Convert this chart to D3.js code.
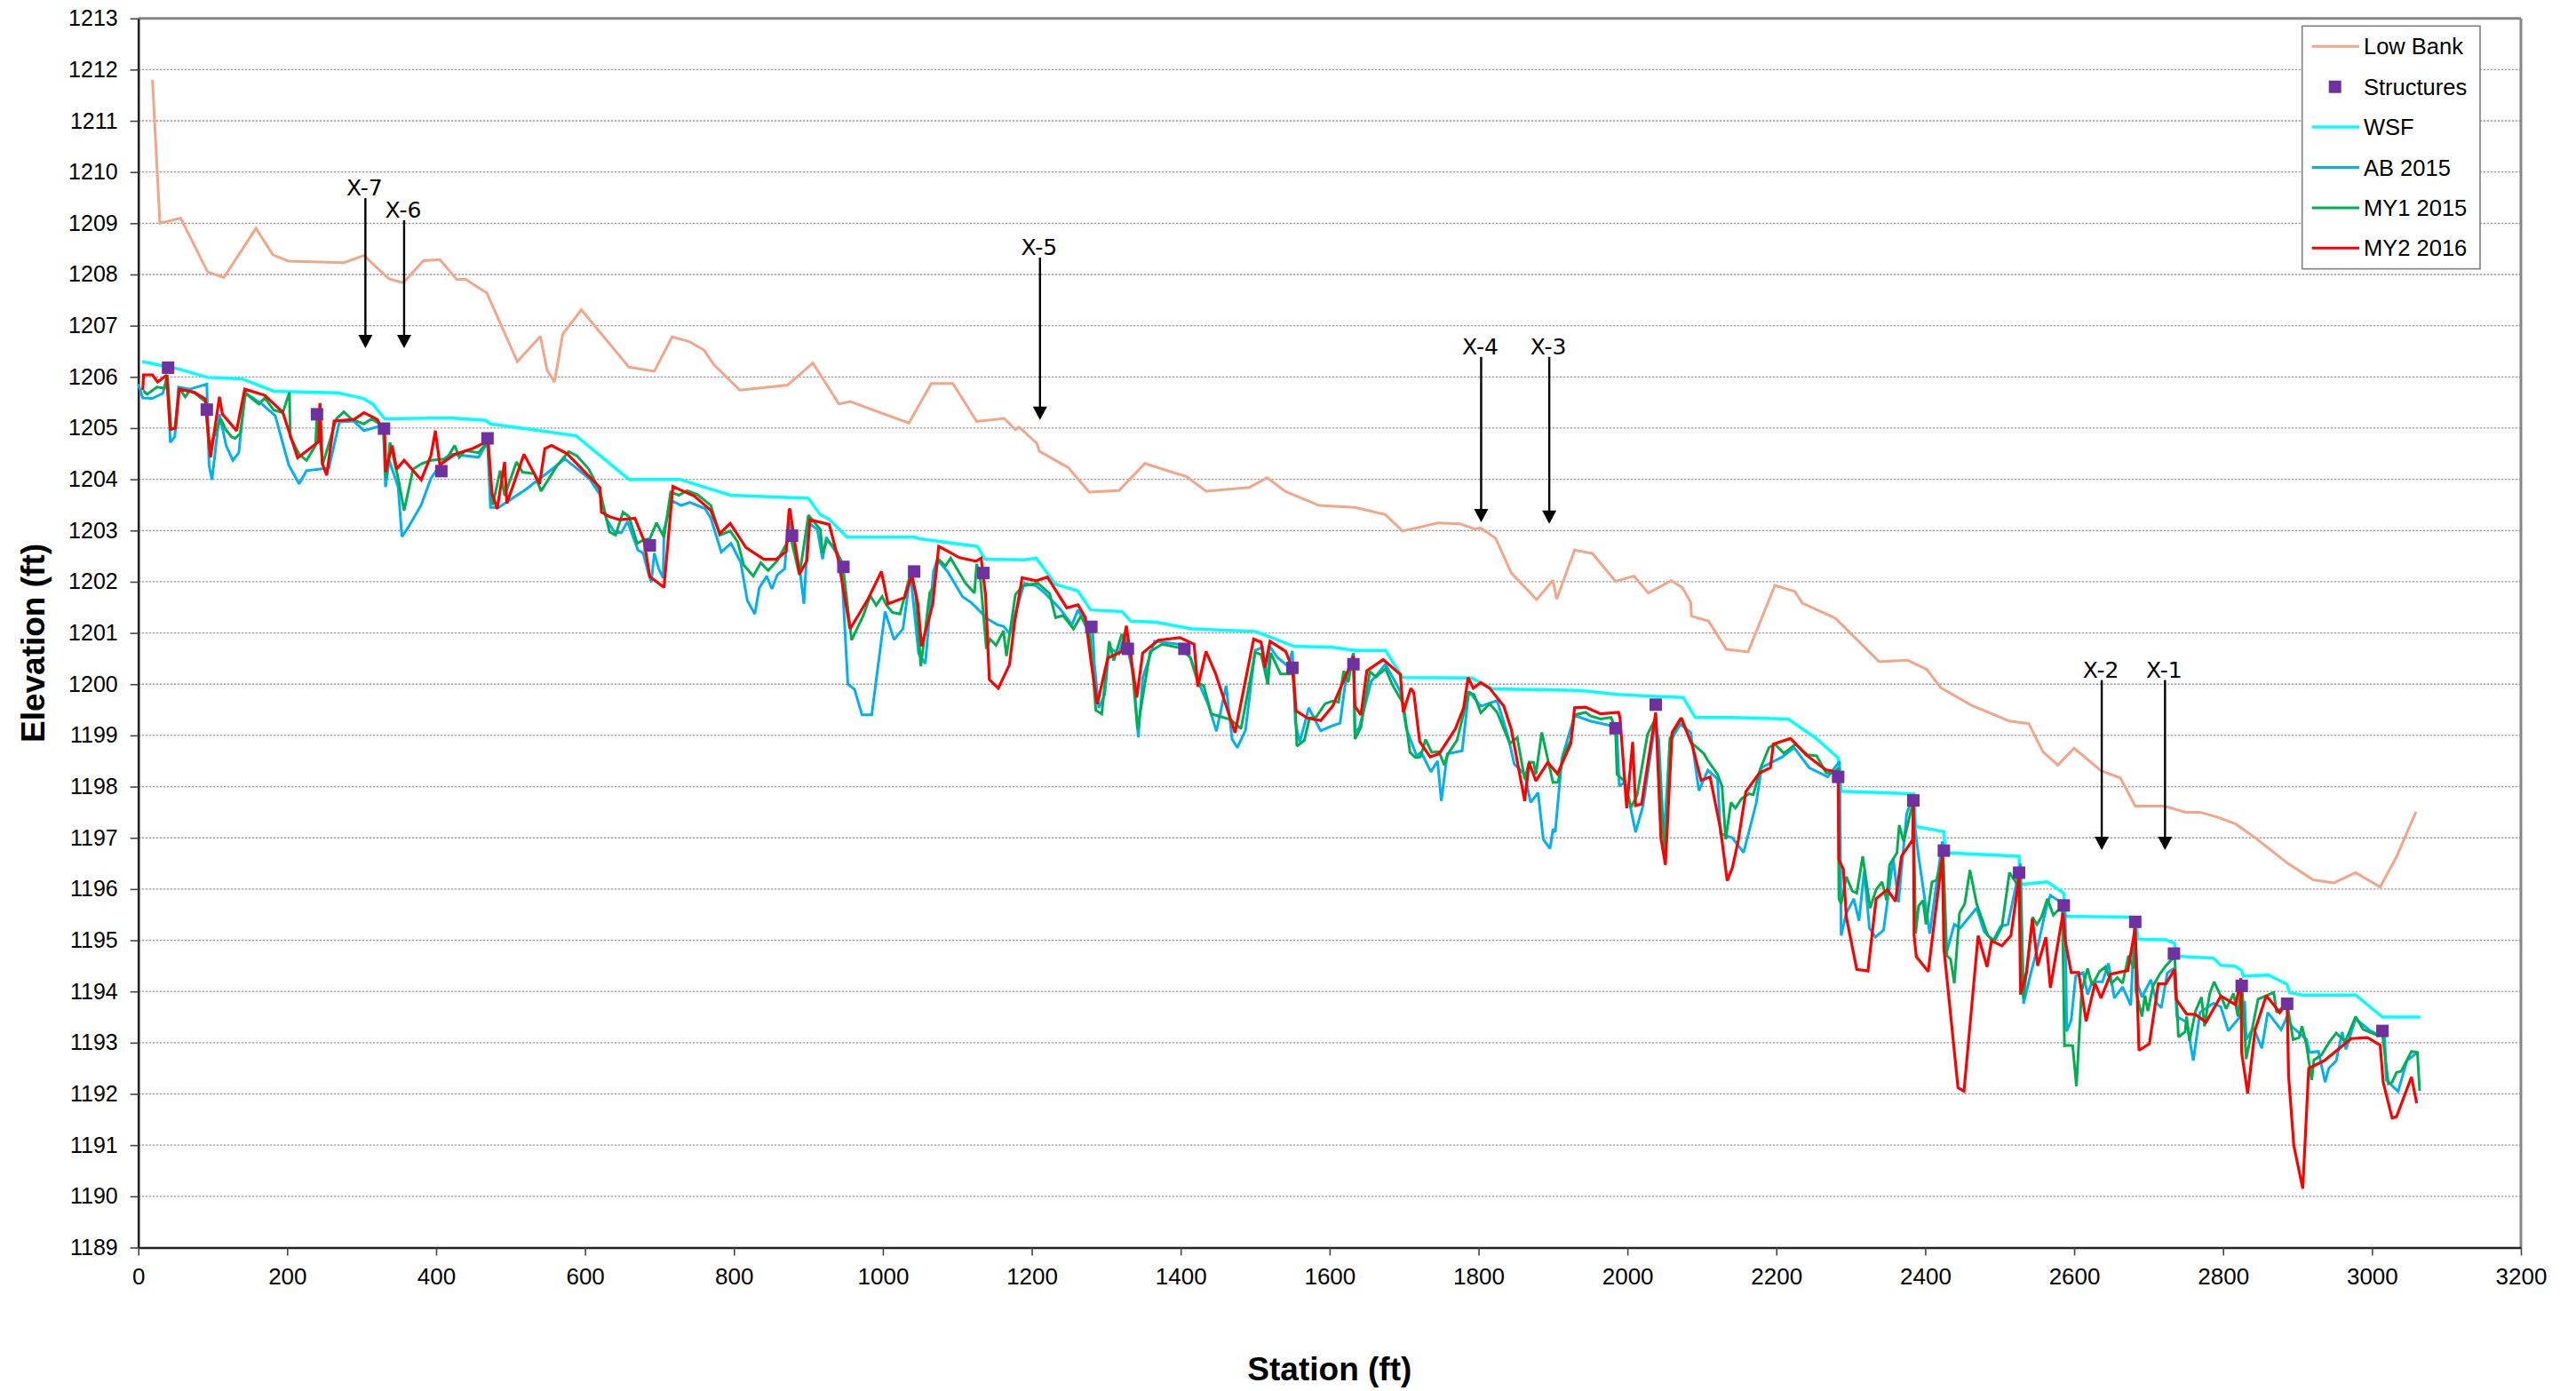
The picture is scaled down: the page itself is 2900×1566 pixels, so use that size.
<!DOCTYPE html>
<html><head><meta charset="utf-8">
<script src="https://cdn.jsdelivr.net/npm/d3@7"></script>
<style>body{margin:0;background:#fff}text{font-family:"Liberation Sans",Arial,sans-serif}</style>
</head><body>
<svg id="chart" width="2900" height="1566" xmlns="http://www.w3.org/2000/svg"></svg>
<script>
// ---------------- DATA ----------------
const seriesNames = ["Low Bank","Structures","WSF","AB 2015","MY1 2015","MY2 2016"];
const xTicks = [0,200,400,600,800,1000,1200,1400,1600,1800,2000,2200,2400,2600,2800,3000,3200];
const yTicks = [1189,1190,1191,1192,1193,1194,1195,1196,1197,1198,1199,1200,1201,1202,1203,1204,1205,1206,1207,1208,1209,1210,1211,1212,1213];

const lowBank = [[19,1211.8],[29,1209.0],[57,1209.1],[93,1208.05],[115,1207.94],[158,1208.9],[181,1208.38],[202,1208.26],[276,1208.23],[303,1208.37],[337,1207.91],[356,1207.84],[383,1208.27],[405,1208.29],[428,1207.9],[439,1207.91],[468,1207.64],[509,1206.3],[540,1206.79],[549,1206.13],[559,1205.9],[570,1206.83],[595,1207.31],[659,1206.19],[693,1206.11],[717,1206.78],[740,1206.69],[760,1206.52],[773,1206.24],[808,1205.74],[872,1205.84],[906,1206.27],[941,1205.47],[956,1205.52],[1035,1205.1],[1065,1205.87],[1094,1205.87],[1126,1205.13],[1163,1205.19],[1178,1204.97],[1183,1205.02],[1207,1204.7],[1210,1204.55],[1249,1204.23],[1277,1203.75],[1317,1203.78],[1352,1204.31],[1393,1204.12],[1407,1204.06],[1434,1203.77],[1492,1203.84],[1516,1204.03],[1541,1203.76],[1586,1203.49],[1634,1203.45],[1675,1203.31],[1698,1202.99],[1746,1203.15],[1775,1203.13],[1795,1203.03],[1803,1203.05],[1823,1202.85],[1844,1202.17],[1878,1201.65],[1900,1202.03],[1905,1201.66],[1929,1202.62],[1953,1202.55],[1984,1202.01],[2009,1202.11],[2028,1201.78],[2059,1202.02],[2074,1201.88],[2085,1201.6],[2086,1201.33],[2109,1201.23],[2133,1200.68],[2162,1200.63],[2198,1201.93],[2225,1201.81],[2235,1201.58],[2279,1201.29],[2338,1200.44],[2376,1200.47],[2402,1200.29],[2421,1199.93],[2463,1199.58],[2513,1199.28],[2539,1199.23],[2558,1198.68],[2578,1198.42],[2600,1198.75],[2636,1198.31],[2662,1198.17],[2682,1197.62],[2721,1197.62],[2750,1197.5],[2769,1197.5],[2793,1197.4],[2817,1197.27],[2845,1196.98],[2887,1196.5],[2921,1196.18],[2949,1196.12],[2978,1196.32],[3011,1196.04],[3033,1196.63],[3059,1197.51]];

const structures = [[40,1206.18],[92,1205.36],[240,1205.27],[330,1204.99],[407,1204.16],[469,1204.8],[687,1202.71],[878,1202.9],[947,1202.29],[1042,1202.2],[1135,1202.17],[1280,1201.12],[1329,1200.69],[1405,1200.69],[1550,1200.32],[1632,1200.39],[1984,1199.14],[2038,1199.6],[2283,1198.19],[2384,1197.73],[2425,1196.75],[2526,1196.32],[2586,1195.68],[2682,1195.36],[2734,1194.74],[2825,1194.11],[2886,1193.76],[3014,1193.23]];

const wsf = [[5,1206.3],[55,1206.15],[93,1205.99],[140,1205.96],[182,1205.72],[268,1205.69],[302,1205.58],[315,1205.47],[331,1205.18],[417,1205.2],[467,1205.15],[473,1205.08],[530,1204.97],[588,1204.85],[659,1204.0],[727,1204.0],[795,1203.69],[900,1203.63],[916,1203.31],[928,1203.22],[952,1202.87],[1043,1202.87],[1049,1202.84],[1105,1202.73],[1127,1202.69],[1137,1202.44],[1190,1202.43],[1206,1202.46],[1232,1201.95],[1262,1201.82],[1279,1201.45],[1321,1201.42],[1333,1201.23],[1367,1201.21],[1415,1201.08],[1500,1201.03],[1520,1200.92],[1552,1200.74],[1604,1200.72],[1634,1200.66],[1675,1200.66],[1698,1200.13],[1791,1200.12],[1819,1199.91],[1934,1199.88],[1986,1199.8],[2037,1199.76],[2075,1199.74],[2091,1199.35],[2141,1199.35],[2216,1199.32],[2252,1198.96],[2283,1198.56],[2287,1197.91],[2385,1197.86],[2387,1197.22],[2425,1197.12],[2427,1196.71],[2526,1196.64],[2527,1196.09],[2564,1196.14],[2586,1195.92],[2588,1195.47],[2682,1195.45],[2686,1195.02],[2723,1195.01],[2735,1194.94],[2737,1194.69],[2787,1194.65],[2797,1194.51],[2815,1194.5],[2825,1194.41],[2827,1194.3],[2861,1194.32],[2886,1194.14],[2889,1193.98],[2906,1193.93],[2978,1193.93],[3014,1193.5],[3065,1193.5]];

const ab2015 = [[0,1205.86],[6,1205.59],[19,1205.58],[33,1205.68],[39,1206.0],[43,1204.72],[49,1204.83],[54,1205.8],[69,1205.76],[92,1205.86],[95,1204.28],[99,1203.99],[109,1205.27],[118,1204.66],[127,1204.37],[135,1204.52],[143,1205.7],[166,1205.47],[184,1205.24],[202,1204.28],[216,1203.91],[226,1204.17],[256,1204.22],[270,1205.12],[289,1205.14],[303,1204.95],[329,1205.06],[332,1203.85],[337,1204.37],[349,1203.85],[354,1202.88],[362,1203.05],[380,1203.5],[393,1204.02],[413,1204.43],[421,1204.49],[457,1204.43],[469,1204.72],[473,1203.45],[484,1203.45],[520,1203.8],[548,1204.11],[573,1204.4],[590,1204.2],[606,1204.01],[620,1203.7],[629,1203.21],[640,1202.96],[649,1202.96],[657,1203.18],[671,1202.62],[678,1202.56],[685,1202.17],[689,1201.99],[693,1202.56],[699,1202.25],[705,1202.07],[706,1203.02],[717,1203.58],[729,1203.49],[741,1203.55],[761,1203.43],[769,1203.24],[783,1202.58],[796,1202.75],[809,1202.38],[818,1201.63],[828,1201.37],[834,1201.88],[844,1202.11],[851,1201.86],[858,1202.13],[868,1202.25],[872,1202.93],[875,1203.18],[888,1202.28],[894,1201.57],[900,1203.15],[912,1203.02],[919,1202.44],[924,1202.87],[944,1202.41],[953,1200.0],[962,1199.9],[972,1199.4],[985,1199.4],[1003,1201.42],[1015,1200.87],[1027,1201.08],[1037,1202.16],[1048,1200.6],[1057,1200.4],[1068,1202.2],[1073,1202.43],[1087,1202.2],[1107,1201.71],[1119,1201.59],[1141,1201.27],[1154,1201.16],[1162,1201.13],[1171,1200.98],[1178,1201.39],[1190,1201.97],[1206,1201.92],[1218,1201.77],[1238,1201.47],[1254,1201.16],[1262,1201.45],[1274,1201.16],[1282,1200.98],[1284,1200.4],[1290,1199.54],[1298,1199.8],[1304,1200.72],[1317,1200.59],[1325,1200.98],[1337,1200.12],[1343,1198.96],[1349,1200.12],[1365,1200.84],[1397,1200.78],[1413,1200.52],[1425,1200.0],[1437,1199.6],[1448,1199.08],[1461,1199.97],[1469,1198.93],[1476,1198.76],[1487,1199.1],[1500,1200.66],[1510,1200.72],[1517,1200.0],[1519,1200.75],[1530,1200.52],[1544,1200.35],[1550,1200.65],[1554,1199.25],[1560,1198.87],[1572,1199.54],[1588,1199.09],[1604,1199.19],[1614,1199.24],[1622,1200.12],[1632,1200.61],[1634,1199.06],[1640,1199.16],[1656,1200.06],[1675,1200.39],[1695,1199.86],[1703,1199.13],[1717,1198.6],[1723,1198.67],[1736,1198.29],[1745,1198.5],[1750,1197.72],[1758,1198.64],[1778,1198.7],[1787,1199.86],[1803,1199.57],[1825,1199.68],[1840,1198.96],[1848,1198.44],[1862,1198.24],[1870,1197.69],[1880,1197.88],[1887,1196.97],[1896,1196.79],[1900,1197.17],[1903,1197.11],[1912,1198.55],[1929,1199.39],[1950,1199.28],[1978,1199.19],[1986,1199.02],[1989,1198.01],[1997,1198.09],[2011,1197.11],[2021,1197.63],[2037,1199.22],[2042,1198.93],[2049,1196.98],[2057,1198.87],[2071,1199.22],[2085,1199.06],[2096,1197.92],[2108,1198.32],[2121,1198.15],[2125,1197.08],[2141,1197.0],[2156,1196.71],[2173,1197.68],[2180,1198.37],[2208,1198.58],[2224,1198.76],[2244,1198.37],[2269,1198.19],[2280,1198.4],[2285,1198.49],[2287,1195.09],[2294,1195.53],[2304,1195.81],[2311,1195.38],[2318,1196.35],[2325,1195.24],[2333,1195.06],[2344,1195.2],[2357,1196.6],[2364,1195.74],[2375,1197.47],[2384,1197.83],[2386,1197.22],[2391,1196.64],[2406,1195.13],[2423,1196.93],[2428,1194.73],[2439,1195.31],[2447,1195.24],[2469,1195.63],[2479,1195.17],[2491,1194.99],[2501,1195.27],[2511,1195.31],[2528,1196.5],[2532,1193.76],[2542,1194.37],[2550,1194.81],[2562,1195.6],[2568,1195.88],[2582,1195.74],[2588,1195.49],[2590,1193.22],[2596,1193.44],[2602,1194.3],[2612,1194.37],[2618,1193.94],[2624,1194.19],[2638,1194.19],[2646,1194.55],[2654,1193.87],[2665,1194.09],[2676,1193.73],[2681,1195.3],[2686,1194.11],[2691,1193.89],[2703,1194.23],[2711,1193.77],[2717,1193.68],[2725,1194.36],[2734,1194.45],[2738,1193.51],[2751,1193.4],[2760,1192.65],[2769,1193.59],[2787,1193.77],[2797,1193.7],[2807,1193.23],[2823,1193.51],[2829,1193.81],[2831,1193.06],[2841,1193.29],[2852,1192.89],[2860,1193.59],[2878,1193.25],[2886,1193.51],[2892,1193.32],[2912,1193.06],[2916,1192.81],[2928,1192.83],[2937,1192.23],[2942,1192.5],[2952,1192.65],[2960,1193.21],[2965,1192.87],[2978,1193.47],[2996,1193.25],[3010,1193.14],[3017,1193.16],[3019,1192.27],[3035,1192.05],[3047,1192.65],[3061,1192.81]];

const my12015 = [[7,1205.73],[12,1205.66],[25,1205.8],[35,1205.78],[39,1206.04],[44,1204.97],[49,1205.0],[55,1205.78],[63,1205.61],[69,1205.73],[75,1205.69],[90,1205.52],[95,1204.6],[111,1205.18],[117,1204.98],[125,1204.83],[130,1204.8],[137,1204.9],[144,1205.68],[162,1205.47],[170,1205.59],[182,1205.35],[194,1205.3],[203,1205.7],[204,1204.83],[216,1204.49],[226,1204.37],[238,1204.66],[240,1205.24],[248,1204.31],[266,1205.18],[276,1205.32],[286,1205.18],[303,1205.08],[313,1205.18],[329,1205.04],[333,1204.02],[338,1204.72],[349,1204.02],[357,1203.39],[369,1204.2],[381,1204.31],[393,1204.37],[414,1204.4],[425,1204.66],[431,1204.43],[439,1204.56],[457,1204.52],[469,1204.73],[476,1203.5],[486,1204.17],[492,1203.68],[508,1204.34],[516,1204.14],[532,1204.11],[541,1203.77],[562,1204.26],[578,1204.54],[589,1204.46],[605,1204.2],[620,1203.77],[633,1202.97],[641,1202.91],[651,1203.36],[659,1203.27],[670,1202.75],[679,1202.82],[687,1202.84],[696,1203.15],[706,1202.87],[715,1203.75],[726,1203.69],[737,1203.78],[751,1203.7],[769,1203.49],[781,1202.91],[795,1202.99],[805,1202.78],[813,1202.33],[826,1202.11],[836,1202.37],[846,1202.22],[858,1202.41],[872,1202.78],[876,1202.87],[888,1202.13],[900,1203.3],[916,1203.02],[919,1202.56],[925,1202.81],[936,1202.65],[946,1202.34],[958,1200.86],[974,1201.35],[983,1201.73],[991,1201.54],[999,1201.71],[1005,1201.54],[1013,1201.4],[1023,1201.37],[1037,1202.16],[1044,1201.79],[1051,1200.35],[1063,1201.79],[1069,1201.91],[1074,1202.45],[1084,1202.31],[1091,1202.46],[1111,1201.97],[1123,1201.78],[1126,1202.35],[1131,1202.05],[1139,1200.69],[1144,1200.88],[1152,1200.76],[1162,1201.04],[1166,1200.55],[1178,1201.75],[1188,1201.92],[1208,1201.97],[1224,1201.77],[1232,1201.3],[1242,1201.34],[1256,1201.08],[1266,1201.33],[1278,1200.98],[1286,1199.49],[1294,1199.42],[1304,1200.84],[1310,1200.46],[1321,1200.98],[1326,1200.8],[1333,1200.61],[1342,1199.13],[1359,1200.64],[1375,1200.78],[1399,1200.71],[1413,1200.52],[1423,1200.03],[1431,1199.97],[1441,1199.42],[1467,1199.31],[1481,1199.13],[1500,1200.62],[1508,1200.58],[1517,1200.0],[1521,1200.61],[1534,1200.2],[1548,1200.2],[1552,1200.29],[1556,1198.79],[1566,1198.9],[1573,1199.34],[1582,1199.36],[1594,1199.62],[1604,1199.67],[1612,1199.65],[1619,1200.26],[1625,1200.04],[1632,1200.6],[1634,1198.93],[1642,1199.16],[1654,1200.25],[1662,1200.14],[1675,1200.3],[1685,1199.97],[1699,1199.62],[1708,1198.67],[1715,1198.57],[1722,1198.58],[1729,1198.92],[1737,1198.67],[1747,1198.68],[1754,1198.42],[1759,1198.64],[1771,1198.9],[1787,1199.84],[1794,1199.8],[1803,1199.44],[1815,1199.62],[1825,1199.45],[1842,1198.84],[1852,1198.96],[1862,1198.15],[1868,1198.48],[1874,1198.47],[1877,1198.24],[1885,1199.06],[1900,1198.08],[1907,1198.09],[1914,1198.64],[1924,1198.9],[1929,1199.4],[1944,1199.45],[1950,1199.38],[1964,1199.32],[1978,1199.35],[1984,1199.13],[1986,1198.24],[1995,1198.12],[2005,1197.6],[2013,1197.83],[2027,1199.02],[2038,1199.34],[2047,1197.34],[2051,1196.56],[2057,1198.94],[2073,1199.34],[2085,1198.87],[2103,1198.64],[2107,1198.53],[2121,1198.24],[2127,1198.01],[2132,1196.97],[2139,1197.69],[2145,1197.58],[2153,1197.76],[2163,1197.86],[2169,1197.84],[2178,1198.33],[2190,1198.76],[2198,1198.83],[2210,1198.65],[2226,1198.83],[2242,1198.62],[2254,1198.6],[2267,1198.27],[2278,1198.26],[2283,1198.37],[2284,1195.81],[2287,1195.71],[2294,1196.24],[2302,1195.96],[2308,1195.92],[2316,1196.64],[2326,1195.63],[2334,1195.99],[2342,1196.14],[2348,1195.78],[2352,1196.47],[2362,1196.71],[2365,1197.25],[2371,1196.93],[2381,1197.54],[2384,1197.68],[2387,1195.13],[2391,1195.67],[2397,1195.78],[2401,1195.31],[2409,1196.14],[2415,1196.17],[2424,1196.71],[2429,1194.7],[2434,1194.63],[2439,1194.16],[2446,1195.53],[2453,1195.71],[2460,1196.37],[2469,1195.71],[2484,1195.09],[2493,1194.99],[2503,1195.27],[2513,1196.32],[2525,1196.06],[2527,1196.24],[2532,1193.87],[2544,1195.45],[2550,1195.31],[2556,1195.45],[2564,1195.81],[2572,1195.49],[2584,1195.67],[2587,1192.94],[2592,1192.95],[2598,1192.94],[2603,1192.15],[2610,1194.01],[2618,1194.45],[2624,1194.12],[2634,1194.39],[2642,1194.48],[2650,1194.16],[2658,1194.27],[2665,1194.16],[2673,1194.7],[2680,1194.45],[2682,1195.2],[2683,1194.0],[2691,1193.51],[2695,1193.92],[2699,1193.62],[2706,1194.11],[2715,1194.34],[2723,1194.5],[2735,1194.69],[2740,1193.11],[2749,1193.21],[2751,1193.51],[2755,1193.04],[2763,1193.62],[2771,1193.89],[2775,1193.32],[2782,1193.96],[2788,1194.19],[2800,1193.81],[2804,1193.66],[2814,1193.96],[2820,1193.51],[2825,1194.19],[2831,1192.68],[2847,1193.85],[2868,1193.98],[2872,1193.59],[2886,1193.77],[2894,1193.06],[2902,1193.1],[2906,1193.32],[2912,1192.95],[2919,1192.27],[2922,1192.66],[2932,1192.76],[2943,1193.02],[2952,1193.19],[2964,1193.02],[2978,1193.51],[2988,1193.26],[3008,1193.14],[3014,1193.17],[3022,1192.2],[3027,1192.23],[3033,1192.42],[3039,1192.44],[3053,1192.83],[3061,1192.81],[3064,1192.06]];

const my22016 = [[6,1205.74],[7,1206.04],[19,1206.04],[26,1205.9],[38,1206.03],[43,1204.98],[50,1205.0],[55,1205.76],[75,1205.7],[90,1205.57],[97,1204.43],[109,1205.61],[113,1205.27],[132,1204.95],[143,1205.76],[170,1205.64],[194,1205.31],[214,1204.42],[242,1204.73],[244,1205.49],[247,1204.31],[253,1204.08],[263,1205.14],[290,1205.17],[303,1205.3],[321,1205.17],[331,1204.89],[332,1204.14],[341,1204.66],[347,1204.2],[357,1204.37],[380,1203.99],[393,1204.46],[399,1204.95],[405,1204.28],[425,1204.49],[449,1204.6],[466,1204.72],[470,1204.72],[475,1203.73],[482,1203.42],[492,1204.34],[495,1203.53],[518,1204.49],[539,1203.91],[546,1204.6],[555,1204.66],[576,1204.5],[620,1203.84],[622,1203.36],[633,1203.27],[647,1203.21],[667,1203.24],[679,1202.81],[687,1202.1],[706,1201.89],[718,1203.86],[747,1203.67],[769,1203.39],[781,1202.94],[795,1203.14],[816,1202.67],[840,1202.44],[857,1202.44],[870,1202.59],[874,1203.39],[875,1203.43],[888,1202.15],[898,1202.41],[902,1203.21],[928,1203.12],[940,1202.44],[956,1201.08],[980,1201.66],[998,1202.2],[1007,1201.57],[1029,1201.69],[1039,1202.13],[1047,1201.57],[1052,1200.74],[1067,1201.56],[1075,1202.69],[1103,1202.47],[1125,1202.4],[1132,1202.46],[1138,1201.73],[1143,1200.09],[1155,1199.92],[1170,1200.38],[1177,1201.21],[1187,1202.08],[1206,1202.02],[1221,1202.09],[1247,1201.49],[1262,1201.55],[1272,1201.3],[1280,1200.4],[1288,1199.61],[1302,1200.51],[1321,1200.64],[1327,1201.14],[1341,1199.74],[1349,1200.61],[1370,1200.86],[1399,1200.91],[1418,1200.78],[1423,1199.95],[1434,1200.64],[1447,1200.2],[1473,1199.05],[1498,1200.88],[1508,1200.82],[1513,1200.32],[1520,1200.84],[1541,1200.64],[1550,1200.32],[1555,1199.48],[1570,1199.34],[1588,1199.29],[1604,1199.57],[1628,1200.38],[1632,1200.55],[1634,1199.57],[1642,1199.4],[1650,1200.26],[1672,1200.48],[1695,1200.19],[1699,1199.45],[1709,1199.92],[1713,1199.84],[1721,1198.88],[1735,1198.58],[1747,1198.64],[1769,1199.13],[1780,1199.54],[1786,1200.13],[1793,1199.92],[1803,1200.03],[1815,1199.92],[1834,1199.57],[1844,1199.12],[1862,1197.72],[1868,1198.47],[1877,1198.11],[1893,1198.47],[1906,1198.25],[1924,1198.84],[1929,1199.54],[1944,1199.55],[1964,1199.42],[1988,1199.45],[1990,1199.35],[1999,1197.58],[2007,1198.87],[2011,1197.63],[2019,1197.66],[2038,1199.45],[2045,1196.99],[2051,1196.47],[2060,1199.06],[2072,1199.34],[2087,1198.81],[2099,1198.12],[2111,1198.19],[2125,1197.17],[2134,1196.16],[2141,1196.42],[2149,1196.96],[2159,1197.9],[2177,1198.26],[2192,1198.37],[2196,1198.83],[2219,1198.94],[2240,1198.62],[2266,1198.33],[2280,1198.29],[2283,1198.15],[2284,1196.57],[2290,1196.39],[2294,1195.45],[2308,1194.43],[2323,1194.4],[2334,1195.81],[2349,1195.99],[2360,1195.76],[2368,1196.64],[2383,1196.96],[2384,1197.72],[2385,1195.09],[2388,1194.68],[2404,1194.39],[2423,1196.64],[2425,1194.84],[2444,1192.12],[2452,1192.05],[2471,1195.09],[2483,1194.48],[2489,1194.99],[2503,1194.89],[2515,1195.09],[2526,1196.24],[2528,1193.94],[2536,1194.37],[2544,1195.42],[2551,1194.5],[2562,1195.06],[2568,1194.07],[2585,1195.53],[2588,1194.99],[2596,1194.37],[2606,1194.37],[2616,1193.42],[2628,1194.16],[2636,1193.87],[2649,1194.34],[2672,1194.41],[2682,1195.24],[2687,1192.85],[2701,1192.98],[2713,1194.15],[2723,1194.15],[2735,1194.43],[2737,1193.85],[2751,1193.56],[2763,1193.55],[2777,1193.4],[2797,1193.91],[2817,1193.74],[2824,1194.26],[2825,1192.8],[2833,1192.01],[2843,1193.25],[2858,1193.92],[2876,1193.59],[2886,1193.77],[2888,1192.35],[2895,1190.99],[2907,1190.15],[2915,1192.5],[2936,1192.65],[2972,1193.08],[2994,1193.1],[3011,1192.95],[3015,1192.23],[3027,1191.53],[3033,1191.56],[3053,1192.33],[3060,1191.82]];

const annLabels = ["X-7","X-6","X-5","X-4","X-3","X-2","X-1"];
const annStations = [305,357,1211,1803.5,1895,2637,2722];
const annTop = [1209.49,1209.06,1208.33,1206.39,1206.39,1200.08,1200.08];
const annTip = [1206.56,1206.56,1205.16,1203.16,1203.13,1196.76,1196.76];

// ---------------- CHART ----------------
const svg = d3.select("#chart");
const L = 155.7, R = 2838, T = 20.7, B = 1404.5;
const x = d3.scaleLinear().domain([0, 3200]).range([L, R]);
const y = d3.scaleLinear().domain([1189, 1213]).range([B, T]);

svg.append("rect").attr("width",2900).attr("height",1566).attr("fill","#fff");

// gridlines
svg.append("g").selectAll("line").data(yTicks.filter(d => d > 1189 && d < 1213)).join("line")
  .attr("x1", L).attr("x2", R).attr("y1", d => y(d)).attr("y2", d => y(d))
  .attr("stroke", "#9a9a9a").attr("stroke-width", 1.3).attr("stroke-dasharray", "2.5,1.5");

// borders top/right
svg.append("line").attr("x1",L).attr("x2",R).attr("y1",T).attr("y2",T).attr("stroke","#858585").attr("stroke-width",3);
svg.append("line").attr("x1",R).attr("x2",R).attr("y1",T).attr("y2",B).attr("stroke","#858585").attr("stroke-width",3);

// axes
const yAxis = svg.append("g").attr("transform", `translate(${L},0)`)
  .call(d3.axisLeft(y).tickValues(yTicks).tickSize(9).tickSizeOuter(0).tickPadding(14).tickFormat(d3.format("d")));
const xAxis = svg.append("g").attr("transform", `translate(0,${B})`)
  .call(d3.axisBottom(x).tickValues(xTicks).tickSize(9).tickSizeOuter(0).tickPadding(14).tickFormat(d3.format("d")));
[yAxis, xAxis].forEach(g => {
  g.select(".domain").attr("stroke", "#222").attr("stroke-width", 2.6);
  g.selectAll(".tick line").attr("stroke", "#444").attr("stroke-width", 1.6);
  g.selectAll(".tick text").attr("fill", "#000").style("font-family", '"Liberation Sans", Arial, sans-serif');
});
yAxis.selectAll(".tick text").style("font-size", "25px");
xAxis.selectAll(".tick text").style("font-size", "26px");

// series lines
const line = d3.line().x(d => x(d[0])).y(d => y(d[1]));
const plot = svg.append("g");
const lineSeries = [
  {data: lowBank, color: "#F2A588", w: 3},
  {data: wsf, color: "#00FFFF", w: 3.5},
  {data: ab2015, color: "#00B0F0", w: 3},
  {data: my12015, color: "#00B050", w: 3},
  {data: my22016, color: "#FF0000", w: 3.2}
];
lineSeries.forEach(s => {
  plot.append("path").attr("d", line(s.data)).attr("fill", "none")
    .attr("stroke", s.color).attr("stroke-width", s.w).attr("stroke-linejoin", "miter").attr("stroke-miterlimit", 2);
});

// structures
const sq = 14;
plot.selectAll("rect.struct").data(structures).join("rect").attr("class","struct")
  .attr("x", d => x(d[0]) - sq/2).attr("y", d => y(d[1]) - sq/2)
  .attr("width", sq).attr("height", sq).attr("fill", "#7030A0");

// annotations
const ann = svg.append("g");
annLabels.forEach((lab, i) => {
  const ax = x(annStations[i]), y0 = y(annTop[i]), y1 = y(annTip[i]);
  ann.append("line").attr("x1", ax).attr("x2", ax).attr("y1", y0).attr("y2", y1 - 13)
    .attr("stroke", "#000").attr("stroke-width", 2.4);
  ann.append("path").attr("d", `M${ax-8},${y1-15} L${ax+8},${y1-15} L${ax},${y1} Z`).attr("fill", "#000");
  ann.append("text").attr("x", ax - 1).attr("y", y0 - 3).attr("text-anchor", "middle")
    .style("font-family", '"DejaVu Sans", Verdana, sans-serif').style("font-size", "25px").attr("fill", "#000").text(lab);
});

// legend
const lg = svg.append("g");
lg.append("rect").attr("x", 2591.7).attr("y", 29.3).attr("width", 200.3).attr("height", 273.4)
  .attr("fill", "#fff").attr("stroke", "#7f7f7f").attr("stroke-width", 1.6);
const legColors = ["#F2A588", "#7030A0", "#00FFFF", "#00B0F0", "#00B050", "#FF0000"];
seriesNames.forEach((n, i) => {
  const cy = 52.3 + i * 45.4;
  if (i === 1) {
    lg.append("rect").attr("x", 2621.7).attr("y", cy - 7).attr("width", 14).attr("height", 14).attr("fill", legColors[i]);
  } else {
    lg.append("line").attr("x1", 2602.7).attr("x2", 2656).attr("y1", cy).attr("y2", cy)
      .attr("stroke", legColors[i]).attr("stroke-width", i === 2 ? 3.5 : 3);
  }
  lg.append("text").attr("x", 2661).attr("y", cy + 9).style("font-size", "25.5px").attr("fill", "#000").text(n);
});

// axis titles
svg.append("text").attr("x", (L + R) / 2).attr("y", 1554).attr("text-anchor", "middle")
  .style("font-size", "37px").style("font-weight", "bold").text("Station (ft)");
svg.append("text").attr("transform", "translate(50,724) rotate(-90)").attr("text-anchor", "middle")
  .style("font-size", "37px").style("font-weight", "bold").text("Elevation (ft)");
</script>
</body></html>
